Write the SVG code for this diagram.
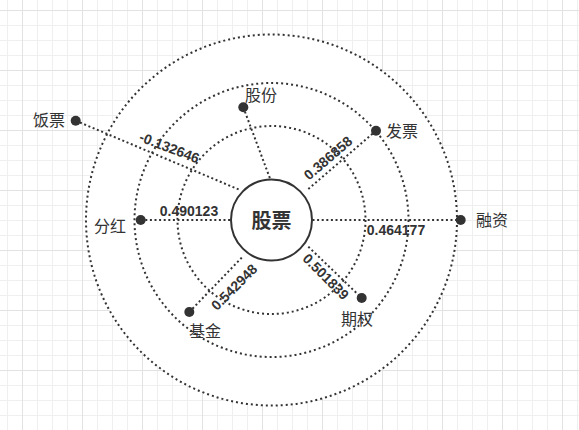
<svg xmlns="http://www.w3.org/2000/svg" width="579" height="430" viewBox="0 0 579 430">
<style>
.ring{fill:none;stroke:#333;stroke-width:2;stroke-dasharray:2 3}
.edge{fill:none;stroke:#333;stroke-width:2;stroke-dasharray:2 2.6}
.dot{fill:#333}
.lbl{font-family:"Liberation Sans","Noto Sans CJK SC",sans-serif;font-size:16px;fill:#333}
.num{font-family:"Liberation Sans","Noto Sans CJK SC",sans-serif;font-size:14px;font-weight:bold;fill:#333;text-anchor:middle}
.main{font-family:"Liberation Sans","Noto Sans CJK SC",sans-serif;font-size:20px;font-weight:bold;fill:#333;text-anchor:middle}
</style>
<defs>
<pattern id="grid" patternUnits="userSpaceOnUse" x="22" y="10" width="60" height="60">
<path d="M15.5 0V60M30.5 0V60M45.5 0V60M0 15.5H60M0 30.5H60M0 45.5H60" stroke="#efefef" stroke-width="1" fill="none"/>
<path d="M0.5 0V60M0 0.5H60" stroke="#e2e2e2" stroke-width="1" fill="none"/>
</pattern>
</defs>
<rect width="579" height="430" fill="#fff"/>
<rect width="579" height="430" fill="url(#grid)"/>
<g id="rings">
<circle cx="271.5" cy="220" r="185.5" fill="#fff" stroke="none"/>
<circle class="ring" cx="271.5" cy="220" r="185.5"/>
<circle class="ring" cx="271.5" cy="220" r="137"/>
<circle class="ring" cx="271.5" cy="220" r="94"/>
</g>
<g id="connectors">
<line class="edge" x1="243.3" y1="107.3" x2="270" y2="178.5"/>
<line class="edge" x1="75.7" y1="120.7" x2="240" y2="190"/>
<line class="edge" x1="376" y1="130.7" x2="306.7" y2="190.5"/>
<line class="edge" x1="312.5" y1="220" x2="460.7" y2="220"/>
<line class="edge" x1="140.7" y1="220" x2="230.5" y2="220"/>
<line class="edge" x1="189.3" y1="312" x2="243.3" y2="256"/>
<line class="edge" x1="308.3" y1="246.7" x2="361.7" y2="298"/>
<text class="num" transform="translate(169.5,147.5) rotate(21)" y="5">-0.132646</text>
<text class="num" transform="translate(328,158) rotate(-40.6)" y="5">0.386858</text>
<text class="num" transform="translate(234,287) rotate(-45)" y="5">0.542948</text>
<text class="num" transform="translate(326,276.7) rotate(45)" y="5">0.501839</text>
<text class="num" x="189" y="216">0.490123</text>
<text class="num" x="396" y="235">0.464177</text>
</g>
<g id="n-gupiao">
<circle cx="271.5" cy="220" r="40.5" fill="#fff" stroke="#333" stroke-width="2"/>
<text class="main" x="271.5" y="228">股票</text>
</g>
<g id="n-gufen">
<circle class="dot" cx="243.3" cy="107.3" r="5"/>
<text class="lbl" x="245" y="101">股份</text>
</g>
<g id="n-fanpiao">
<circle class="dot" cx="75.7" cy="120.7" r="5"/>
<text class="lbl" x="65" y="126" text-anchor="end">饭票</text>
</g>
<g id="n-fapiao">
<circle class="dot" cx="376" cy="130.7" r="5"/>
<text class="lbl" x="386" y="137">发票</text>
</g>
<g id="n-rongzi">
<circle class="dot" cx="460.7" cy="220" r="5"/>
<text class="lbl" x="476" y="226">融资</text>
</g>
<g id="n-fenhong">
<circle class="dot" cx="140.7" cy="220" r="5"/>
<text class="lbl" x="94" y="232">分红</text>
</g>
<g id="n-jijin">
<circle class="dot" cx="189.3" cy="312" r="5"/>
<text class="lbl" x="189" y="337">基金</text>
</g>
<g id="n-qiquan">
<circle class="dot" cx="361.7" cy="298" r="5"/>
<text class="lbl" x="341" y="325">期权</text>
</g>
</svg>
